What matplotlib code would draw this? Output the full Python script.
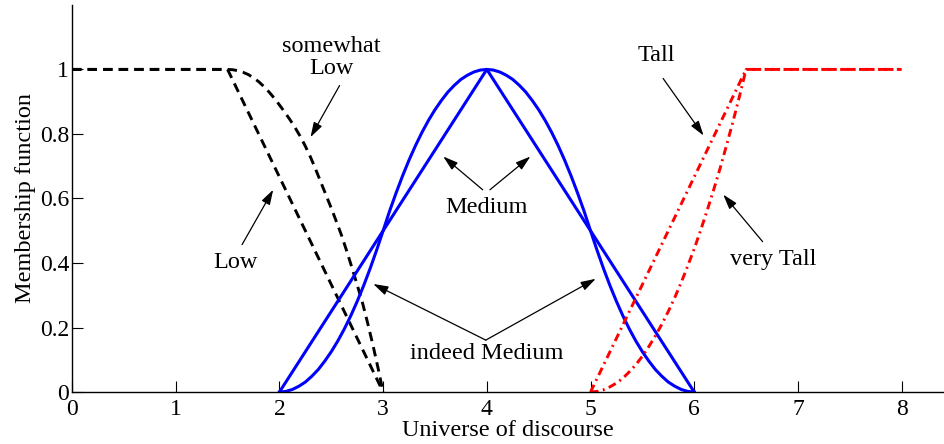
import numpy as np
import matplotlib
matplotlib.use("Agg")
import matplotlib.pyplot as plt

# ---- membership functions on the universe of discourse ----
# Low: trapezoid shoulder
low_x = [0.0, 1.5, 3.0]
low_y = [1.0, 1.0, 0.0]

# somewhat Low (dilated Low)
swlow_x = [0.0, 1.5, 1.55, 1.6, 1.65, 1.7, 1.75, 1.8, 1.85, 1.9, 1.95, 2.0, 2.05, 2.1, 2.15,
           2.2, 2.25, 2.3, 2.35, 2.4, 2.45, 2.5, 2.55, 2.6, 2.65, 2.7, 2.75, 2.8, 2.85,
           2.9, 2.95, 3.0]
swlow_y = [1.0, 1.0, 0.999, 0.996, 0.991, 0.984, 0.974, 0.962, 0.947, 0.930, 0.911, 0.890,
           0.868, 0.845, 0.820, 0.793, 0.762, 0.728, 0.690, 0.650, 0.610, 0.570, 0.528,
           0.485, 0.436, 0.385, 0.332, 0.278, 0.215, 0.148, 0.076, 0.0]

# Medium: triangle
med_x = [2.0, 4.0, 6.0]
med_y = [0.0, 1.0, 0.0]

# indeed Medium (contrast intensified Medium), rising half from x=2 to x=4
ind_rise_y = [0.0, 0.002, 0.008, 0.018, 0.031, 0.049, 0.070, 0.096, 0.125, 0.158, 0.195,
              0.236, 0.281, 0.330, 0.383, 0.440, 0.5, 0.561, 0.617, 0.670, 0.719, 0.764,
              0.805, 0.842, 0.875, 0.904, 0.930, 0.951, 0.969, 0.982, 0.992, 0.998, 1.0]
ind_step = 0.0625
ind_x = [2.0 + i * ind_step for i in range(2 * len(ind_rise_y) - 1)]
ind_y = ind_rise_y + ind_rise_y[-2::-1]

# Tall: ramp to shoulder
tall_x = [5.0, 6.5, 8.0]
tall_y = [0.0, 1.0, 1.0]

# very Tall (concentrated Tall), from x=5 to x=6.5, then flat to 8
vtall_rise_y = [0.0, 0.002, 0.007, 0.016, 0.028, 0.043, 0.063, 0.085, 0.111, 0.141, 0.174,
                0.210, 0.25, 0.293, 0.340, 0.391, 0.444, 0.502, 0.563, 0.627, 0.694,
                0.766, 0.840, 0.918, 1.0]
vtall_x = [5.0 + i * 0.0625 for i in range(len(vtall_rise_y))] + [8.0]
vtall_y = vtall_rise_y + [1.0]

x_ticks = [0, 1, 2, 3, 4, 5, 6, 7, 8]
y_ticks = [0, 0.2, 0.4, 0.6, 0.8, 1.0]
y_tick_labels = ["0", "0.2", "0.4", "0.6", "0.8", "1"]

plt.rcParams["font.family"] = ["Liberation Serif", "DejaVu Serif"]
plt.rcParams["lines.scale_dashes"] = False

fig = plt.figure(figsize=(9.45, 4.44), dpi=100)
ax = fig.add_axes([0.0762, 0.117, 0.9218, 0.872])

fs = 17.5
tfs = 17

dash_k = (6.8, 4.4)
dashdot_r = (5.8, 3.2, 1.4, 3.2)

ax.plot(low_x, low_y, color="black", lw=2.1, dashes=dash_k)
ax.plot(swlow_x, swlow_y, color="black", lw=2.1, dashes=dash_k)
ax.plot(med_x, med_y, color=(0, 0, 1), lw=2.2)
ax.plot(ind_x, ind_y, color=(0, 0, 1), lw=2.2)
ax.plot(tall_x, tall_y, color=(1, 0, 0), lw=2.1, dashes=dashdot_r)
ax.plot(vtall_x, vtall_y, color=(1, 0, 0), lw=2.1, dashes=dashdot_r)

ax.set_xlim(0, 8.4)
ax.set_ylim(0, 1.2)
ax.set_xticks(x_ticks)
ax.set_xticklabels([str(v) for v in x_ticks])
ax.set_yticks(y_ticks)
ax.set_yticklabels(y_tick_labels)
ax.tick_params(direction="in", length=8, width=0.8, labelsize=tfs)
ax.tick_params(axis="x", pad=5)
ax.tick_params(axis="y", pad=2)
for side in ("top", "right"):
    ax.spines[side].set_visible(False)
for side in ("left", "bottom"):
    ax.spines[side].set_linewidth(1.0)

ax.set_xlabel("Universe of discourse", fontsize=fs, labelpad=0)
ax.set_ylabel("Membership function", fontsize=fs, labelpad=3)

arrow = dict(arrowstyle="-|>,head_length=0.9,head_width=0.28", color="black",
             lw=0.9, shrinkA=0, shrinkB=0)

ax.text(2.5, 1.037, "somewhat\nLow", ha="center", va="center", fontsize=fs, linespacing=1.05)
ax.annotate("", xy=(2.30, 0.79), xytext=(2.58, 0.95), arrowprops=arrow)

ax.text(1.58, 0.40, "Low", ha="center", va="center", fontsize=fs)
ax.annotate("", xy=(1.94, 0.627), xytext=(1.64, 0.457), arrowprops=arrow)

ax.text(4.0, 0.571, "Medium", ha="center", va="center", fontsize=fs)
ax.annotate("", xy=(3.58, 0.730), xytext=(3.96, 0.627), arrowprops=arrow)
ax.annotate("", xy=(4.42, 0.730), xytext=(4.03, 0.627), arrowprops=arrow)

ax.text(4.0, 0.118, "indeed Medium", ha="center", va="center", fontsize=fs)
ax.annotate("", xy=(2.905, 0.335), xytext=(3.99, 0.161), arrowprops=arrow)
ax.annotate("", xy=(5.05, 0.351), xytext=(3.99, 0.161), arrowprops=arrow)

ax.text(5.63, 1.043, "Tall", ha="center", va="center", fontsize=fs)
ax.annotate("", xy=(6.09, 0.795), xytext=(5.70, 0.972), arrowprops=arrow)

ax.text(6.76, 0.41, "very Tall", ha="center", va="center", fontsize=fs)
ax.annotate("", xy=(6.28, 0.612), xytext=(6.66, 0.466), arrowprops=arrow)

fig.savefig("out.png", dpi=100)
